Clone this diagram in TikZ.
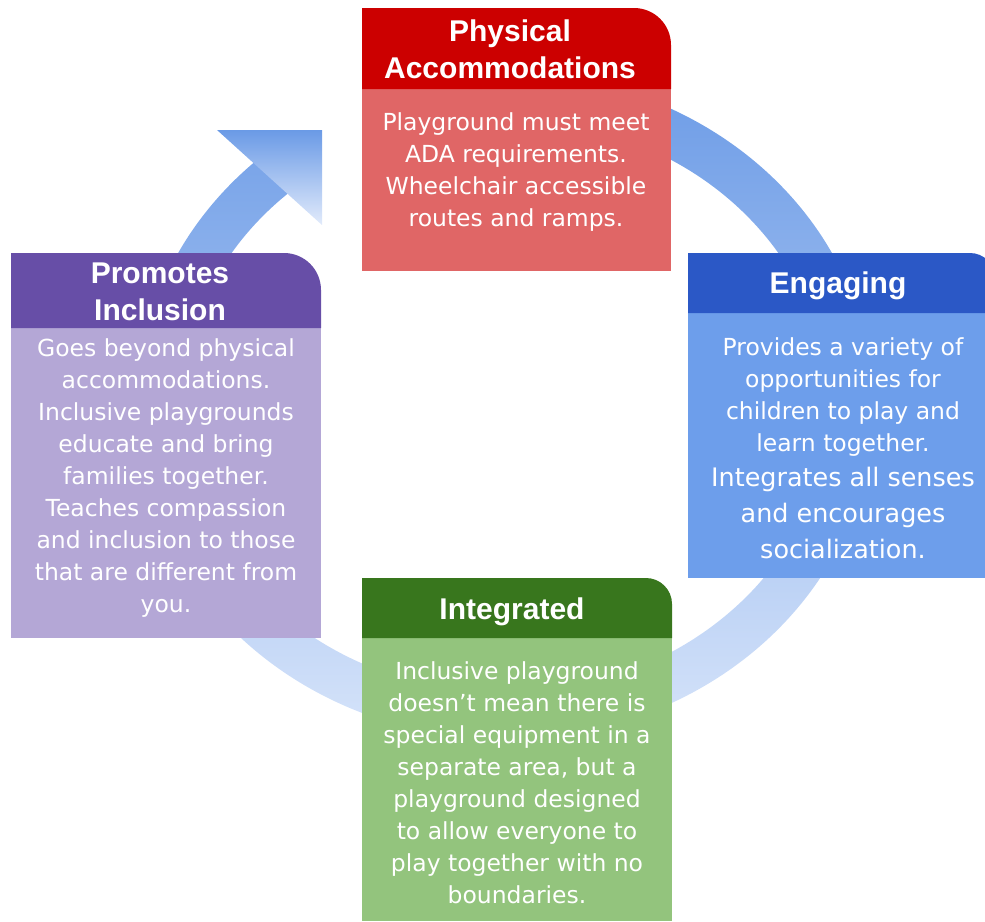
\documentclass[tikz,border=0pt]{standalone}
\usepackage{fontspec}
\setmainfont{DejaVu Sans}
\newfontfamily\titlefont{Liberation Sans}
\usetikzlibrary{calc}
\definecolor{ringtop}{HTML}{6A9AE6}
\definecolor{ringbot}{HTML}{D8E5FA}
\definecolor{arrtop}{HTML}{6A9AE6}
\definecolor{arrbot}{HTML}{E2EBFB}
\definecolor{redhdr}{HTML}{CC0000}
\definecolor{redbody}{HTML}{E06666}
\definecolor{bluehdr}{HTML}{2B58C6}
\definecolor{bluebody}{HTML}{6D9EEB}
\definecolor{greenhdr}{HTML}{38761D}
\definecolor{greenbody}{HTML}{93C47D}
\definecolor{purplehdr}{HTML}{674EA7}
\definecolor{purplebody}{HTML}{B4A7D6}
\tikzset{
  bodytext/.style={anchor=base, inner sep=0pt, text=white, font=\fontsize{17.6}{24}\selectfont},
  bigtext/.style={anchor=base, inner sep=0pt, text=white, font=\fontsize{19.1}{27}\selectfont},
  titletext/.style={anchor=base, inner sep=0pt, text=white, font=\titlefont\bfseries\fontsize{22.5}{28}\selectfont},
}
% x0 x1 ytop yhead ybot radius hdrcolor bodycolor
\newcommand\cardshape[8]{%
  \fill[#8] (#1,-#4) rectangle (#2,-#5);
  \fill[#7] (#1,-#4) -- (#1,-#3) -- ({#2-#6},-#3) arc[start angle=90,end angle=0,radius=#6] -- (#2,-#4) -- cycle;
}
\newcommand\lines[1]{\begin{tabular}[t]{@{}c@{}}#1\end{tabular}}
\begin{document}
\begin{tikzpicture}[x=0.75pt,y=0.75pt]
\useasboundingbox (0,0) rectangle (985,-921);
\clip (0,0) rectangle (985,-921);
% ring band
\coordinate (C) at (505,-406);
\shade[top color=ringtop, bottom color=ringbot]
  ($(C)+(95:368 and 333)$) arc[start angle=95,end angle=-227,x radius=368,y radius=333]
  -- ($(C)+(-228:323 and 287)$) arc[start angle=-228,end angle=95,x radius=323,y radius=287] -- cycle;
% arrow head
\shade[top color=arrtop, bottom color=arrbot] (217,-130) -- (322,-130) -- (322,-225) -- cycle;
% cards
\cardshape{362}{671}{8}{89}{271}{37}{redhdr}{redbody}
\cardshape{688}{995}{253}{313}{578}{25}{bluehdr}{bluebody}
\cardshape{362}{672}{578}{638}{921}{26}{greenhdr}{greenbody}
\cardshape{11}{321}{253}{328}{638}{37}{purplehdr}{purplebody}
% texts
\node[titletext] (phystitle) at (510,-41) {\lines{Physical\\Accommodations}};
\node[bodytext] (physbody) at (516,-130) {\lines{Playground must meet\\ADA requirements.\\Wheelchair accessible\\routes and ramps.}};
\node[titletext] (engtitle) at (838,-293) {\lines{Engaging}};
\node[bodytext] (engbodya) at (843,-355) {\lines{Provides a variety of\\opportunities for\\children to play and\\learn together.}};
\node[bigtext] (engbodyb) at (843,-486) {\lines{Integrates all senses\\and encourages\\socialization.}};
\node[titletext] (inttitle) at (512,-619) {\lines{Integrated}};
\node[bodytext] (intbody) at (517,-679) {\lines{Inclusive playground\\doesn’t mean there is\\special equipment in a\\separate area, but a\\playground designed\\to allow everyone to\\play together with no\\boundaries.}};
\node[titletext] (protitle) at (160,-283) {\lines{Promotes\\Inclusion}};
\node[bodytext] (probody) at (166,-356) {\lines{Goes beyond physical\\accommodations.\\Inclusive playgrounds\\educate and bring\\families together.\\Teaches compassion\\and inclusion to those\\that are different from\\you.}};
\end{tikzpicture}
\end{document}
